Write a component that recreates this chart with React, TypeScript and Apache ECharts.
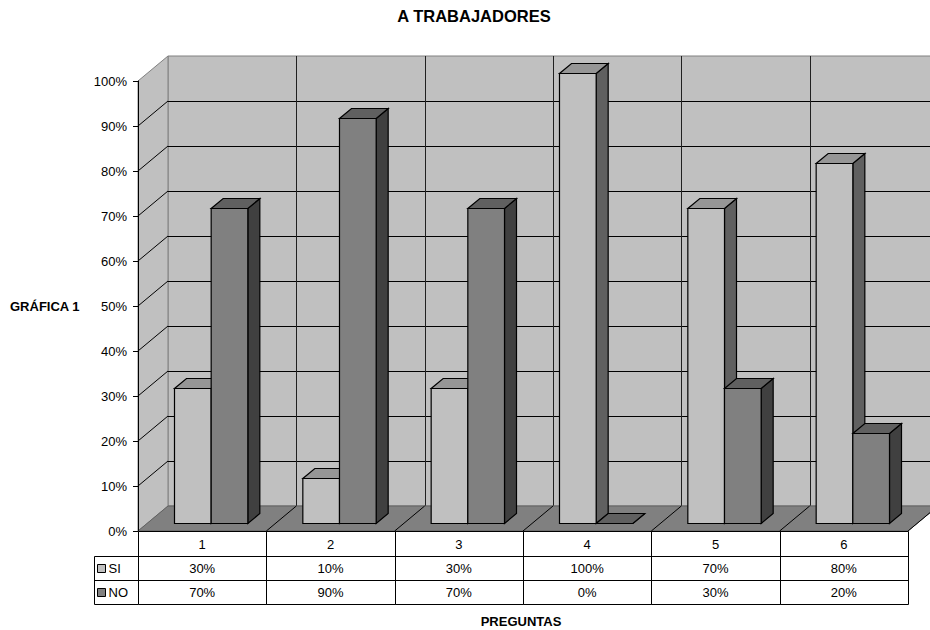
import React, { useEffect, useRef } from 'react';
import * as echarts from 'echarts';

// Survey answers per question (percent)
const categories = ['1', '2', '3', '4', '5', '6'];
const siValues = [30, 10, 30, 100, 70, 80];
const noValues = [70, 90, 70, 0, 30, 20];
const seriesNames = ['SI', 'NO'];
const yTicks = [0, 10, 20, 30, 40, 50, 60, 70, 80, 90, 100];

const FONT = "'Liberation Sans', Arial, Helvetica, sans-serif";

// Oblique projection of the depth axis (pixels for full depth)
const DX = 30;
const DY = 25;
// Depth band occupied by the columns (fraction of floor depth)
const BAR_Z0 = 0.3;
const BAR_Z1 = 0.7;
// Data table row heights under the plot
const ROW_H = [25, 24, 24];
const LEGEND_X = 94;

const palettes = [
  { front: '#c0c0c0', top: '#969696', side: '#606060' },
  { front: '#808080', top: '#606060', side: '#404040' },
];

const crisp = (v: number) => Math.round(v) + 0.5;

function line(x1: number, y1: number, x2: number, y2: number, stroke: string) {
  return {
    type: 'line',
    shape: { x1, y1, x2, y2 },
    style: { stroke, lineWidth: 1 },
  };
}

function renderWalls(params: any, api: any) {
  const cs = params.coordSys;
  const L = cs.x;
  const T = cs.y;
  const W = cs.width;
  const H = cs.height;
  const R = L + W;
  const B = T + H;
  const cw = W / categories.length;
  const children: any[] = [];

  // back wall
  children.push({
    type: 'rect',
    shape: { x: L + DX, y: T - DY, width: W, height: H },
    style: { fill: '#c0c0c0', stroke: '#808080', lineWidth: 1 },
  });
  // side wall
  children.push({
    type: 'polygon',
    shape: { points: [[L, B], [L + DX, B - DY], [L + DX, T - DY], [L, T]] },
    style: { fill: '#c0c0c0', stroke: '#808080', lineWidth: 1 },
  });
  // value gridlines on both walls
  yTicks.forEach((t) => {
    if (t <= 0 || t >= 100) return;
    const y = api.coord([0, t])[1];
    children.push(line(L + DX, crisp(y - DY), R + DX, crisp(y - DY), '#000'));
    children.push(line(L, y, L + DX, y - DY, '#000'));
  });
  // category gridlines on the back wall
  for (let k = 1; k < categories.length; k++) {
    const x = crisp(L + DX + k * cw);
    children.push(line(x, T - DY, x, B - DY, '#202020'));
  }
  // floor
  children.push({
    type: 'polygon',
    shape: { points: [[L, B], [R, B], [R + DX, B - DY], [L + DX, B - DY]] },
    style: { fill: '#808080', stroke: '#606060', lineWidth: 1 },
  });
  for (let k = 1; k < categories.length; k++) {
    const x = L + k * cw;
    children.push(line(x, B, x + DX, B - DY, '#000'));
  }
  children.push(line(R, B, R + DX, B - DY, '#000'));
  return { type: 'group', children };
}

function makeBarRenderer(s: number) {
  return (params: any, api: any) => {
    const idx = api.value(0);
    const val = api.value(1);
    const base = api.coord([idx, 0]);
    const top = api.coord([idx, val]);
    const cw = api.size([1, 0])[0];
    const bw = cw / 3.5;
    const x0 = base[0] - bw + s * bw + BAR_Z0 * DX;
    const x1 = x0 + bw;
    const yb = base[1] - BAR_Z0 * DY;
    const yt = top[1] - BAR_Z0 * DY;
    const ddx = (BAR_Z1 - BAR_Z0) * DX;
    const ddy = (BAR_Z1 - BAR_Z0) * DY;
    const p = palettes[s];
    const st = (fill: string) => ({ fill, stroke: '#000', lineWidth: 1.2, lineJoin: 'miter' });
    return {
      type: 'group',
      children: [
        {
          type: 'polygon',
          shape: { points: [[x1, yt], [x1 + ddx, yt - ddy], [x1 + ddx, yb - ddy], [x1, yb]] },
          style: st(p.side),
        },
        {
          type: 'polygon',
          shape: { points: [[x0, yt], [x1, yt], [x1 + ddx, yt - ddy], [x0 + ddx, yt - ddy]] },
          style: st(p.top),
        },
        {
          type: 'rect',
          shape: { x: x0, y: yt, width: bw, height: yb - yt },
          style: st(p.front),
        },
      ],
    };
  };
}

function cellText(text: string, x: number, y: number, align = 'center') {
  return {
    type: 'text',
    x,
    y,
    style: {
      text,
      fill: '#000',
      fontSize: 13,
      fontFamily: FONT,
      align,
      verticalAlign: 'middle',
    },
  };
}

function renderTable(params: any, api: any) {
  const idx = api.value(0);
  const c = api.coord([idx, 0]);
  const cw = api.size([1, 0])[0];
  const xl = crisp(c[0] - cw / 2);
  const xr = crisp(c[0] + cw / 2);
  const y0 = crisp(c[1]);
  const y1 = y0 + ROW_H[0];
  const y2 = y1 + ROW_H[1];
  const y3 = y2 + ROW_H[2];
  const children: any[] = [
    line(xl, y0, xr, y0, '#000'),
    line(xl, y1, xr, y1, '#000'),
    line(xl, y2, xr, y2, '#000'),
    line(xl, y3, xr, y3, '#000'),
    line(xl, y0, xl, y3, '#000'),
    line(xr, y0, xr, y3, '#000'),
    cellText(categories[idx], c[0], (y0 + y1) / 2),
    cellText(`${siValues[idx]}%`, c[0], (y1 + y2) / 2),
    cellText(`${noValues[idx]}%`, c[0], (y2 + y3) / 2),
  ];
  if (idx === 0) {
    const lx = crisp(LEGEND_X);
    children.push(line(lx, y1, xl, y1, '#000'));
    children.push(line(lx, y2, xl, y2, '#000'));
    children.push(line(lx, y3, xl, y3, '#000'));
    children.push(line(lx, y1, lx, y3, '#000'));
    [y1, y2].forEach((ya, s) => {
      const yc = ya + ROW_H[s + 1] / 2;
      children.push({
        type: 'rect',
        shape: { x: lx + 3, y: Math.round(yc - 4.5) + 0.5, width: 8, height: 8 },
        style: { fill: palettes[s].front, stroke: '#000', lineWidth: 1 },
      });
      children.push(cellText(seriesNames[s], lx + 14, yc, 'left'));
    });
  }
  return { type: 'group', children };
}

export default function App() {
  const ref = useRef<HTMLDivElement>(null);

  useEffect(() => {
    if (!ref.current) return;
    const chart = echarts.init(ref.current, undefined, { renderer: 'svg' });
    const option: any = {
      animation: false,
      backgroundColor: '#ffffff',
      textStyle: { fontFamily: FONT },
      grid: { left: 138, right: 22, top: 81, bottom: 99 },
      xAxis: {
        type: 'category',
        data: categories,
        show: false,
      },
      yAxis: {
        type: 'value',
        min: 0,
        max: 100,
        interval: 10,
        z: 10,
        axisLine: { show: true, lineStyle: { color: '#000', width: 1 } },
        axisTick: { show: true, length: 5, lineStyle: { color: '#000' } },
        axisLabel: {
          formatter: '{value}%',
          color: '#000',
          fontSize: 13,
          fontFamily: FONT,
          margin: 11,
        },
        splitLine: { show: false },
      },
      graphic: [
        {
          type: 'text',
          x: 474,
          y: 16,
          style: {
            text: 'A TRABAJADORES',
            fill: '#000',
            fontSize: 16.5,
            fontWeight: 'bold',
            fontFamily: FONT,
            align: 'center',
            verticalAlign: 'middle',
          },
        },
        {
          type: 'text',
          x: 10,
          y: 306,
          style: {
            text: 'GRÁFICA 1',
            fill: '#000',
            fontSize: 13,
            fontWeight: 'bold',
            fontFamily: FONT,
            align: 'left',
            verticalAlign: 'middle',
          },
        },
        {
          type: 'text',
          x: 521,
          y: 621,
          style: {
            text: 'PREGUNTAS',
            fill: '#000',
            fontSize: 13,
            fontWeight: 'bold',
            fontFamily: FONT,
            align: 'center',
            verticalAlign: 'middle',
          },
        },
      ],
      series: [
        {
          type: 'custom',
          name: 'walls',
          z: 1,
          silent: true,
          clip: false,
          renderItem: renderWalls,
          data: [[0, 0]],
        },
        {
          type: 'custom',
          name: seriesNames[0],
          z: 3,
          clip: false,
          renderItem: makeBarRenderer(0),
          data: siValues.map((v, i) => [i, v]),
        },
        {
          type: 'custom',
          name: seriesNames[1],
          z: 4,
          clip: false,
          renderItem: makeBarRenderer(1),
          data: noValues.map((v, i) => [i, v]),
        },
        {
          type: 'custom',
          name: 'table',
          z: 5,
          silent: true,
          clip: false,
          renderItem: renderTable,
          data: categories.map((_, i) => [i, 0]),
        },
      ],
    };
    chart.setOption(option);
    return () => chart.dispose();
  }, []);

  return (
    <div
      ref={ref}
      style={{ position: 'absolute', left: 0, top: 0, width: 930, height: 630, background: '#fff' }}
    />
  );
}
